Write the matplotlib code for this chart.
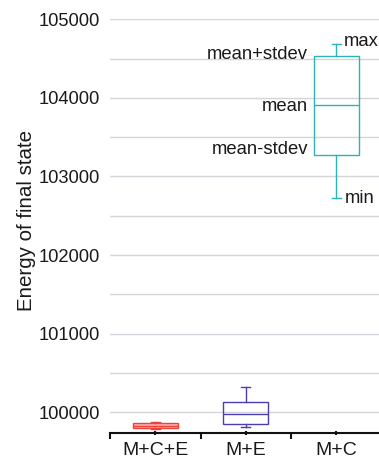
import matplotlib
matplotlib.use("Agg")
import matplotlib.pyplot as plt

plt.rcParams['font.family'] = ['Liberation Sans', 'DejaVu Sans']

categories = ["M+C+E", "M+E", "M+C"]
whislo = [99782, 99813, 102725]
q1 = [99800, 99857, 103278]
med = [99830, 99975, 103909]
q3 = [99868, 100127, 104539]
whishi = [99872, 100326, 104692]
colors = ["#e8443c", "#4b3fb0", "#2bb3b7"]
fills = ["#f6b4b0", "none", "none"]
yticks = [100000, 101000, 102000, 103000, 104000, 105000]

fig = plt.figure(figsize=(3.79, 4.62), dpi=100)
ax = fig.add_axes([110/379, 29.3/462, 271.6/379, 413.4/462])

stats = [dict(whislo=a, q1=b, med=c, q3=d, whishi=e, label=l)
         for a, b, c, d, e, l in zip(whislo, q1, med, q3, whishi, categories)]
pos = list(range(len(categories)))
bp = ax.bxp(stats, positions=pos, widths=0.5, capwidths=0.1, showfliers=False,
            patch_artist=True, manage_ticks=False)
for i, c in enumerate(colors):
    bp['boxes'][i].set_edgecolor(c)
    bp['boxes'][i].set_facecolor(fills[i])
    bp['boxes'][i].set_linewidth(1.0)
    bp['medians'][i].set_color(c)
    bp['medians'][i].set_linewidth(1.0)
    for k in (2*i, 2*i+1):
        bp['whiskers'][k].set_color(c)
        bp['whiskers'][k].set_linewidth(1.0)
        bp['caps'][k].set_color(c)
        bp['caps'][k].set_linewidth(1.0)

ax.set_xlim(-0.5, 2.5)
ax.set_ylim(99740, 105000)
ax.set_yticks(yticks)
ax.set_yticks([100500, 101500, 102500, 103500, 104500], minor=True)
ax.set_yticklabels([str(v) for v in yticks])
ax.grid(True, axis='y', which='both', color='#d4d4da', linewidth=1.0)
ax.set_axisbelow(True)
for s in ('left', 'top', 'right'):
    ax.spines[s].set_visible(False)
ax.spines['bottom'].set_linewidth(1.5)
ax.spines['bottom'].set_color('#111111')

ax.set_xticks(pos)
ax.set_xticklabels(categories)
ax.set_xticks([-0.5, 0.5, 1.5, 2.5], minor=True)
ax.tick_params(axis='x', which='major', direction='inout', length=3, width=1.5,
               color='#111111', labelsize=14, labelcolor='#1a1a1a', pad=5)
ax.tick_params(axis='x', which='minor', direction='out', length=4, width=1.5,
               color='#111111')
ax.tick_params(axis='y', which='both', length=0, pad=7.2, labelsize=13.2,
               labelcolor='#1a1a1a')

fig.text(27/379, 1 - 220.5/462, "Energy of final state", rotation=90,
         ha='center', va='center', fontsize=14.8, color='#1a1a1a')

i = 2
fs = 13.3
tc = '#1a1a1a'
ax.annotate("max", xy=(pos[i] + 0.05, whishi[i]), xytext=(2.2, 1.5),
            textcoords='offset points', ha='left', va='center', fontsize=fs, color=tc)
ax.annotate("min", xy=(pos[i] + 0.05, whislo[i]), xytext=(3, 0),
            textcoords='offset points', ha='left', va='center', fontsize=fs, color=tc)
ax.annotate("mean+stdev", xy=(pos[i] - 0.25, q3[i]), xytext=(-4, 1),
            textcoords='offset points', ha='right', va='center', fontsize=fs, color=tc)
ax.annotate("mean", xy=(pos[i] - 0.25, med[i]), xytext=(-4, -1),
            textcoords='offset points', ha='right', va='center', fontsize=fs, color=tc)
ax.annotate("mean-stdev", xy=(pos[i] - 0.25, q1[i]), xytext=(-4, 4),
            textcoords='offset points', ha='right', va='center', fontsize=fs, color=tc)

fig.savefig("out.png", dpi=100)
